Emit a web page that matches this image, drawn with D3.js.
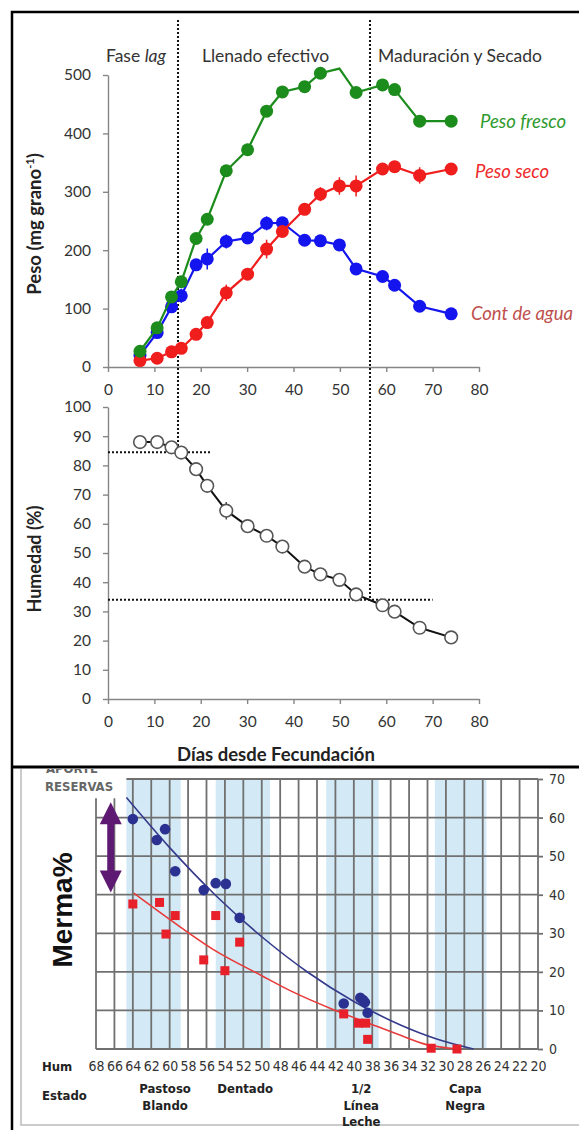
<!DOCTYPE html>
<html>
<head>
<meta charset="utf-8">
<script src="https://cdn.jsdelivr.net/npm/d3@7"></script>
<style>
  body { margin: 0; background: #fff; }
  svg { display: block; }
  .tick text { font-family: Lato, "Open Sans", sans-serif; }
</style>
</head>
<body>
<div id="chart"></div>
<script>
// ---- top chart data (days after fertilization) ----
const days = [6.9, 10.6, 13.7, 15.8, 19, 21.4, 25.5, 30.1, 34.2, 37.6, 42.4, 45.8, 49.9, 53.5, 59.2, 61.8, 67.2, 74];
const pesoFresco = [27, 67, 120, 146, 220, 253, 336, 372, 438, 471, 480, 503, 511, 470, 483, 475, 421, 421];
const pesoSeco = [11, 15, 26, 32, 56, 76, 127, 159, 202, 232, 270, 296, 310, 310, 339, 343, 328, 339];
const contAgua = [20, 59, 103, 122, 175, 185, 215, 221, 246, 247, 217, 216, 209, 168, 155, 140, 104, 91];
const humedad = [88, 88, 86.2, 84.4, 78.7, 73, 64.5, 59.2, 55.9, 52.2, 45.3, 42.7, 40.8, 35.8, 32.1, 29.9, 24.4, 21.1];
const errSeco = [0, 0, 0, 0, 0, 0, 14, 0, 16, 0, 0, 12, 15, 18, 0, 0, 14, 10];
const errAgua = [0, 10, 10, 12, 0, 18, 12, 0, 12, 0, 0, 0, 0, 0, 0, 0, 0, 0];
const errHum = [0, 0, 0, 0, 0, 0, 3, 0, 0, 0, 0, 0, 0, 0, 0, 0, 0, 0];
const frescoNoMarker = [12];
const pesoTicks = [0, 100, 200, 300, 400, 500];
const humTicksTop = [0, 10, 20, 30, 40, 50, 60, 70, 80, 90, 100];
const dayTicks = [0, 10, 20, 30, 40, 50, 60, 70, 80];
const phaseBounds = [15.1, 56.5];
const humThresholds = [84.5, 34];
const phaseNames = ["Fase lag", "Llenado efectivo", "Maduración y Secado"];

// ---- bottom chart data (grain humidity vs merma) ----
const humTicks = d3.range(68, 19, -2);
const mermaTicks = [0, 10, 20, 30, 40, 50, 60, 70];
const bands = [[64.7, 58.8], [55, 49.1], [43, 37.3], [31.2, 25.6]];
const bluePtsHum = [64.0, 61.4, 60.5, 59.4, 56.3, 55.0, 53.9, 52.4, 41.1, 39.3, 39.0, 38.8, 38.5];
const bluePtsMerma = [59.6, 54.2, 57, 46.1, 41.2, 43, 42.8, 34, 11.8, 13.3, 12.7, 12.1, 9.4];
const redPtsHum = [64.0, 61.1, 60.4, 59.4, 55.0, 52.4, 56.3, 54.0, 41.1, 39.5, 38.7, 38.5, 31.6, 28.8];
const redPtsMerma = [37.6, 38, 29.8, 34.6, 34.6, 27.7, 23.1, 20.3, 9.1, 6.7, 6.7, 2.5, 0.2, 0];
const blueCurveHum = [64.7, 60, 55, 50, 45, 40, 35, 31, 27];
const blueCurveMerma = [65.2, 52.2, 39.8, 29.1, 19.9, 12.3, 6.3, 2.6, 0];
const redCurveHum = [63.9, 60, 55.2, 50, 46.8, 42, 38.4, 35, 32.2, 28.6];
const redCurveMerma = [40.4, 33.6, 25.7, 19, 15, 10, 6.7, 3.6, 1.2, 0];
const estados = [
  { hum: 60.5, lines: ["Pastoso", "Blando"] },
  { hum: 51.8, lines: ["Dentado"] },
  { hum: 39.2, lines: ["1/2", "Línea", "Leche"] },
  { hum: 27.9, lines: ["Capa", "Negra"] }
];
const aporteArrow = { hum: 66.4, from: 64, to: 40.6 };

const W = 579, H = 1130;
const svg = d3.select("#chart").append("svg").attr("width", W).attr("height", H);

const green = "#1c8c1c", red = "#f01d1d", blue = "#1414ee";
const axisColor = "#868686";
const font = "Lato, 'Open Sans', sans-serif";
const narrow = "'Liberation Sans Narrow', 'DejaVu Sans Condensed', 'Arial Narrow', sans-serif";

// ================= TOP PANEL =================
const x = d3.scaleLinear().domain([0, 80]).range([108, 479]);
const yW = d3.scaleLinear().domain([0, 500]).range([367, 75]);
const yH = d3.scaleLinear().domain([0, 100]).range([699, 407]);

function styleAxis(g) {
  g.select(".domain").attr("stroke", axisColor).attr("stroke-width", 1.4);
  g.selectAll(".tick line").attr("stroke", axisColor).attr("stroke-width", 1.4);
  g.selectAll(".tick text").attr("fill", "#333").style("font-size", "15.5px");
}

svg.append("g").attr("transform", `translate(${x(0)},0)`)
  .call(d3.axisLeft(yW).tickValues(pesoTicks).tickSize(5).tickPadding(12).tickSizeOuter(0))
  .call(styleAxis);
svg.append("g").attr("transform", `translate(0,${yW(0)})`)
  .call(d3.axisBottom(x).tickValues(dayTicks).tickSize(5).tickPadding(12).tickSizeOuter(0))
  .call(styleAxis);
svg.append("g").attr("transform", `translate(${x(0)},0)`)
  .call(d3.axisLeft(yH).tickValues(humTicksTop).tickSize(5).tickPadding(12).tickSizeOuter(0))
  .call(styleAxis);
svg.append("g").attr("transform", `translate(0,${yH(0)})`)
  .call(d3.axisBottom(x).tickValues(dayTicks).tickSize(5).tickPadding(12).tickSizeOuter(0))
  .call(styleAxis);

// dotted phase / threshold lines
const dotted = svg.append("g").attr("stroke", "#111").attr("stroke-width", 2).attr("stroke-dasharray", "2,2");
dotted.append("line").attr("x1", x(phaseBounds[0])).attr("x2", x(phaseBounds[0]))
  .attr("y1", 20).attr("y2", yH(humThresholds[0]));
dotted.append("line").attr("x1", x(phaseBounds[1])).attr("x2", x(phaseBounds[1]))
  .attr("y1", 20).attr("y2", yH(humThresholds[1]));
dotted.append("line").attr("x1", x(0)).attr("x2", x(22))
  .attr("y1", yH(humThresholds[0])).attr("y2", yH(humThresholds[0]));
dotted.append("line").attr("x1", x(0)).attr("x2", x(70))
  .attr("y1", yH(humThresholds[1])).attr("y2", yH(humThresholds[1]));

// phase labels
const phaseX = [106, 202, 378];
phaseNames.forEach((name, i) => {
  const t = svg.append("text").attr("x", phaseX[i]).attr("y", 62)
    .attr("font-family", font).attr("font-size", 17.5).attr("fill", "#333");
  if (name === "Fase lag") {
    t.append("tspan").text("Fase ");
    t.append("tspan").attr("font-style", "italic").text("lag");
  } else {
    t.text(name);
  }
});

function drawSeries(values, errs, color, y, hidden = []) {
  const pts = days.map((d, i) => ({ d, v: values[i], e: errs ? errs[i] : 0, i }));
  svg.append("path").datum(pts)
    .attr("fill", "none").attr("stroke", color).attr("stroke-width", 2.2)
    .attr("d", d3.line().x(p => x(p.d)).y(p => y(p.v)));
  svg.append("g").selectAll("line").data(pts.filter(p => p.e > 0)).join("line")
    .attr("x1", p => x(p.d)).attr("x2", p => x(p.d))
    .attr("y1", p => y(p.v - p.e)).attr("y2", p => y(p.v + p.e))
    .attr("stroke", color).attr("stroke-width", 1.5);
  svg.append("g").selectAll("circle").data(pts.filter(p => !hidden.includes(p.i))).join("circle")
    .attr("cx", p => x(p.d)).attr("cy", p => y(p.v)).attr("r", 6.5)
    .attr("fill", color);
}

drawSeries(contAgua, errAgua, blue, yW);
drawSeries(pesoSeco, errSeco, red, yW);
drawSeries(pesoFresco, null, green, yW, frescoNoMarker);

// humidity open circles
const humPts = days.map((d, i) => ({ d, v: humedad[i], e: errHum[i] }));
svg.append("path").datum(humPts)
  .attr("fill", "none").attr("stroke", "#111").attr("stroke-width", 2)
  .attr("d", d3.line().x(p => x(p.d)).y(p => yH(p.v)));
svg.append("g").selectAll("line").data(humPts.filter(p => p.e > 0)).join("line")
  .attr("x1", p => x(p.d)).attr("x2", p => x(p.d))
  .attr("y1", p => yH(p.v - p.e)).attr("y2", p => yH(p.v + p.e))
  .attr("stroke", "#333").attr("stroke-width", 1.3);
svg.append("g").selectAll("circle").data(humPts).join("circle")
  .attr("cx", p => x(p.d)).attr("cy", p => yH(p.v)).attr("r", 6.3)
  .attr("fill", "#fff").attr("stroke", "#555").attr("stroke-width", 1.6);

// series labels
const seriesLabels = [
  { text: "Peso fresco", x: 480, y: 128, color: "#2e9a2e" },
  { text: "Peso seco", x: 475, y: 178, color: "#ee2a2a" },
  { text: "Cont de agua", x: 471, y: 320, color: "#c0504d" }
];
svg.selectAll("text.slab").data(seriesLabels).join("text")
  .attr("class", "slab").attr("x", d => d.x).attr("y", d => d.y)
  .attr("font-family", font).attr("font-style", "italic").attr("font-size", 18.5)
  .attr("fill", d => d.color).text(d => d.text);

// axis titles
const t1 = svg.append("text").attr("transform", "translate(41,224) rotate(-90)")
  .attr("text-anchor", "middle").attr("font-family", font).attr("font-weight", "bold")
  .attr("font-size", 18.5).attr("fill", "#222");
t1.append("tspan").text("Peso (mg grano");
t1.append("tspan").attr("font-size", 11).attr("dy", -7).text("-1");
t1.append("tspan").attr("dy", 7).text(")");
svg.append("text").attr("transform", "translate(41,559) rotate(-90)")
  .attr("text-anchor", "middle").attr("font-family", font).attr("font-weight", "bold")
  .attr("font-size", 18).attr("fill", "#222").text("Humedad (%)");
svg.append("text").attr("x", 276).attr("y", 761)
  .attr("text-anchor", "middle").attr("font-family", font).attr("font-weight", "bold")
  .attr("font-size", 18.5).attr("fill", "#222").text("Días desde Fecundación");

// ================= BOTTOM PANEL =================
const xh = d3.scaleLinear().domain([68, 20]).range([96, 538]);
const ym = d3.scaleLinear().domain([0, 70]).range([1049, 779]);

svg.append("clipPath").attr("id", "bottomClip")
  .append("rect").attr("x", 0).attr("y", 769).attr("width", W).attr("height", H - 769);
const bot = svg.append("g").attr("clip-path", "url(#bottomClip)");

// inner gray frame of bottom image
bot.append("path").attr("d", `M21,769 V1125 H${W}`).attr("fill", "none").attr("stroke", "#bbb").attr("stroke-width", 1.5);

// light blue bands
bot.append("g").selectAll("rect").data(bands).join("rect")
  .attr("x", b => xh(b[0])).attr("width", b => xh(b[1]) - xh(b[0]))
  .attr("y", ym(70)).attr("height", ym(0) - ym(70))
  .attr("fill", "#d3eaf6");

// grid
const gridColor = "#707070";
bot.append("g").selectAll("line").data(humTicks).join("line")
  .attr("x1", h => xh(h)).attr("x2", h => xh(h))
  .attr("y1", h => h > 64.7 ? ym(65) : ym(70)).attr("y2", ym(0))
  .attr("stroke", gridColor).attr("stroke-width", 1.8);
bot.append("g").selectAll("line").data(mermaTicks).join("line")
  .attr("x1", m => m === 70 ? xh(64.7) : xh(68)).attr("x2", xh(20))
  .attr("y1", m => ym(m)).attr("y2", m => ym(m))
  .attr("stroke", gridColor).attr("stroke-width", 1.8);

// right axis
const ra = bot.append("g").attr("transform", `translate(${xh(20)},0)`)
  .call(d3.axisRight(ym).tickValues(mermaTicks).tickSize(5).tickPadding(6).tickSizeOuter(0));
ra.select(".domain").remove();
ra.selectAll(".tick line").attr("stroke", gridColor).attr("stroke-width", 1.8);
ra.selectAll(".tick text").attr("fill", "#333").style("font-size", "14px").style("font-family", narrow);

// hum axis labels
const ha = bot.append("g").attr("transform", `translate(0,${ym(0)})`)
  .call(d3.axisBottom(xh).tickValues(humTicks).tickSize(0).tickPadding(12));
ha.select(".domain").remove();
ha.selectAll(".tick text").attr("fill", "#333").style("font-size", "14px").style("font-family", narrow);

// curves
const curveLine = d3.line().curve(d3.curveMonotoneX).x(p => xh(p[0])).y(p => ym(p[1]));
bot.append("path").datum(blueCurveHum.map((h, i) => [h, blueCurveMerma[i]]).reverse())
  .attr("fill", "none").attr("stroke", "#353a8c").attr("stroke-width", 1.6).attr("d", curveLine);
bot.append("path").datum(redCurveHum.map((h, i) => [h, redCurveMerma[i]]).reverse())
  .attr("fill", "none").attr("stroke", "#e83a3a").attr("stroke-width", 1.6).attr("d", curveLine);

// points
bot.append("g").selectAll("circle").data(bluePtsHum.map((h, i) => [h, bluePtsMerma[i]])).join("circle")
  .attr("cx", p => xh(p[0])).attr("cy", p => ym(p[1])).attr("r", 5.3)
  .attr("fill", "#2a3190");
bot.append("g").selectAll("rect").data(redPtsHum.map((h, i) => [h, redPtsMerma[i]])).join("rect")
  .attr("x", p => xh(p[0]) - 4.5).attr("y", p => ym(p[1]) - 4.5).attr("width", 9).attr("height", 9)
  .attr("fill", "#e8202a");

// aporte de reservas arrow
const ax = xh(aporteArrow.hum), ay1 = ym(aporteArrow.from), ay2 = ym(aporteArrow.to);
const purple = "#5e1a72";
bot.append("line").attr("x1", ax).attr("x2", ax).attr("y1", ay1 + 18).attr("y2", ay2 - 18)
  .attr("stroke", purple).attr("stroke-width", 7);
bot.append("path").attr("d", `M${ax},${ay1} L${ax - 11},${ay1 + 22} L${ax + 11},${ay1 + 22} Z`).attr("fill", purple);
bot.append("path").attr("d", `M${ax},${ay2} L${ax - 11},${ay2 - 22} L${ax + 11},${ay2 - 22} Z`).attr("fill", purple);

bot.append("text").attr("x", 46).attr("y", 773).attr("font-family", narrow).attr("font-weight", "bold")
  .attr("font-size", 13).attr("fill", "#666").text("APORTE");
bot.append("text").attr("x", 45).attr("y", 791).attr("font-family", narrow).attr("font-weight", "bold")
  .attr("font-size", 13).attr("fill", "#666").text("RESERVAS");

// Merma% title
bot.append("text").attr("transform", "translate(72,910) rotate(-90)")
  .attr("text-anchor", "middle").attr("font-family", "'Liberation Sans', Arial, sans-serif")
  .attr("font-weight", "bold").attr("font-size", 28).attr("fill", "#111").text("Merma%");

// Hum / Estado row
bot.append("text").attr("x", 42).attr("y", 1071).attr("font-family", narrow).attr("font-weight", "bold")
  .attr("font-size", 13).attr("fill", "#222").text("Hum");
bot.append("text").attr("x", 42).attr("y", 1100).attr("font-family", narrow).attr("font-weight", "bold")
  .attr("font-size", 13).attr("fill", "#222").text("Estado");
estados.forEach(e => {
  const t = bot.append("text").attr("x", xh(e.hum)).attr("y", 1093).attr("text-anchor", "middle")
    .attr("font-family", narrow).attr("font-weight", "bold").attr("font-size", 13).attr("fill", "#222");
  e.lines.forEach((l, i) => t.append("tspan").attr("x", xh(e.hum)).attr("dy", i === 0 ? 0 : 16.5).text(l));
});

// ================= FRAMES =================
svg.append("path").attr("d", `M${W + 5},12 H12 V${H + 5}`).attr("fill", "none").attr("stroke", "#000").attr("stroke-width", 2.5);
svg.append("line").attr("x1", 12).attr("x2", W).attr("y1", 767).attr("y2", 767).attr("stroke", "#000").attr("stroke-width", 3);
</script>
</body>
</html>
